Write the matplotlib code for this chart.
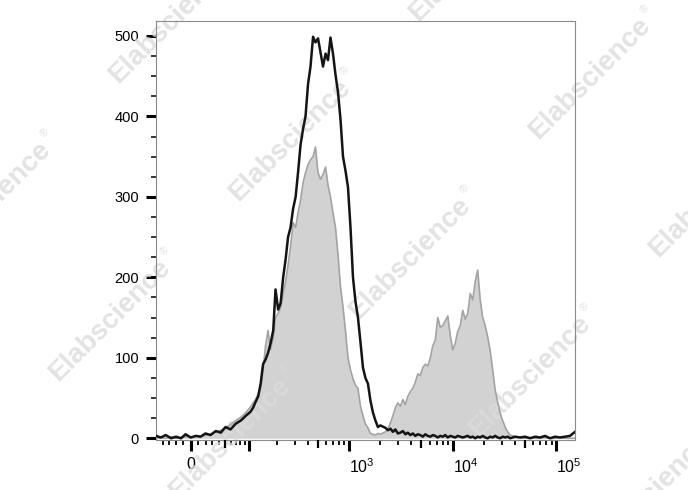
import numpy as np
import matplotlib
matplotlib.use("Agg")
import matplotlib.pyplot as plt
from matplotlib.transforms import offset_copy

plt.rcParams['font.family'] = ['Liberation Sans', 'DejaVu Sans']
plt.rcParams['mathtext.fontset'] = 'custom'
plt.rcParams['mathtext.rm'] = 'Liberation Sans'
plt.rcParams['mathtext.it'] = 'Liberation Sans:italic'
plt.rcParams['mathtext.bf'] = 'Liberation Sans:bold'

# ---------------- data ----------------
bin_values = [
    -51, -43, -35, -27, -20, -13, -7, 0, 7, 13, 20, 27, 35, 43, 51, 60, 70, 81, 93,
    105, 112, 119, 127, 135, 143, 152, 161, 171, 182, 192, 204, 216, 229, 242, 256,
    271, 287, 304, 321, 340, 360, 380, 402, 425, 450, 475, 503, 531, 562, 595, 628,
    664, 702, 742, 785, 830, 877, 926, 980, 1036, 1095, 1157, 1223, 1292, 1366, 1443,
    1526, 1613, 1705, 1803, 1905, 2013,
    2250, 2380, 2514, 2657, 2805, 2965, 3134, 3313, 3500, 3699, 3910, 4133, 4370, 4619,
    4880, 5158, 5450, 5760, 6090, 6437, 6800, 7187, 7600, 8033, 8490, 8973, 9480, 10020,
    10590, 11190, 11830, 12500, 13210, 13960, 14760, 15600, 16490, 17430, 18420, 19470,
    20570, 21740, 22980, 24290, 25670, 27130, 28670, 30300, 32030, 33850, 35780, 37820,
    39960,
    44640, 49860, 55700, 62210, 69490, 77620, 86700, 96850, 108200, 120800, 135000, 150800,
]

control_counts = [  # black open histogram
    3, 1, 4, 0, 2, 0, 5, 1, 3, 2, 6, 4, 9, 7, 14, 11, 18, 22, 28,
    33, 38, 45, 52, 68, 92, 98, 106, 118, 134,
    185, 160, 168, 200, 222, 250, 262, 285, 300, 330,
    365, 385, 400, 440, 462, 499, 492, 497, 480, 462,
    478, 470, 498, 478, 452, 430, 396, 350, 333, 312,
    262, 200, 170, 150, 120, 88, 75, 68, 47, 32,
    22, 14, 16,
    13, 10, 12, 8, 11, 6, 7, 9, 5, 7,
    4, 6, 3, 5, 4, 2, 5, 3, 2, 4,
    3, 1, 3, 2, 4, 1, 3, 2, 1, 3,
    2, 1, 2, 3, 1, 2, 0, 2, 1, 3,
    1, 0, 2, 1, 3, 1, 0, 2, 1, 2,
    0, 1, 2,
    1, 2, 0, 2, 1, 3, 0, 2, 1, 2, 3, 8,
]

sample_counts = [  # gray filled histogram
    0, 1, 0, 2, 0, 1, 2, 1, 3, 2, 4, 5, 8, 10, 13, 17, 22, 26, 32,
    39, 44, 48, 55, 62, 85, 115, 134, 110, 125,
    150, 155, 162, 180, 195, 215, 238, 268, 262, 280,
    296, 318, 330, 340, 346, 350, 362, 330, 322, 328,
    337, 315, 300, 280, 262, 228, 188, 163, 134, 100,
    85, 74, 66, 62, 40, 28, 18, 13, 6, 5,
    4, 6, 5,
    8, 12, 19, 28, 38, 44, 40, 48, 42, 52,
    58, 62, 70, 80, 78, 88, 92, 90, 100, 115,
    122, 150, 138, 140, 146, 152, 128, 110, 118, 133,
    140, 159, 148, 155, 180, 172, 195, 209, 172, 150,
    140, 126, 109, 85, 60, 45, 31, 22, 14, 8,
    4, 3, 2,
    1, 0, 1, 0, 0, 1, 0, 0, 1, 0, 0, 0,
]

x_major_ticks = [0, 100, 1000, 10000, 100000]
x_major_labels = ['0', '', r'$\mathregular{10^{3}}$', r'$\mathregular{10^{4}}$',
                  r'$\mathregular{10^{5}}$']
x_mid_ticks = [50, 500, 5000, 50000]
x_minor_ticks = [-40, -30, -20, -10, 10, 20, 30, 40, 60, 70, 80, 90,
                 200, 300, 400, 600, 700, 800, 900,
                 2000, 3000, 4000, 6000, 7000, 8000, 9000,
                 20000, 30000, 40000, 60000, 70000, 80000, 90000]
y_major_ticks = [0, 100, 200, 300, 400, 500]
y_minor_ticks = [v for v in range(25, 525, 25) if v % 100]

# ---------------- figure ----------------
W, H = 688, 490
fig = plt.figure(figsize=(W / 100, H / 100), dpi=100)
ax = fig.add_axes([156 / W, 1 - 439.5 / H, (575 - 156) / W, (439.5 - 21) / H])

ax.set_xscale('asinh', linear_width=60)
ax.set_xlim(-51, 150800)
ax.set_ylim(-1.5, 518.6)

ax.fill_between(bin_values, sample_counts, 0, color='#d2d2d2', lw=0, zorder=1)
ax.plot(bin_values, sample_counts, color='#a3a3a3', lw=1.2, zorder=3)
ax.plot(bin_values, control_counts, color='#141414', lw=1.8, zorder=4)

# ticks
ax.set_xticks(x_major_ticks)
ax.set_xticklabels(x_major_labels)
ax.set_xticks(x_minor_ticks, minor=True)
ax.set_yticks(y_major_ticks)
ax.set_yticks(y_minor_ticks, minor=True)

ax.tick_params(axis='y', which='major', length=7.2, width=2.2, direction='out',
               pad=5, labelsize=10.5, color='black')
ax.tick_params(axis='y', which='minor', length=3.6, width=1.1, direction='out',
               color='black')
ax.tick_params(axis='x', which='major', length=7.6, width=2.2, direction='out',
               pad=5, labelsize=11.5, color='black')
ax.tick_params(axis='x', which='minor', length=3.3, width=1.3, direction='out',
               color='black')
for lab in ax.get_xticklabels()[2:]:
    lab.set_horizontalalignment('left')

for s in ax.spines.values():
    s.set_color('#8a8a8a')
    s.set_linewidth(0.8)

# medium ticks (5 x 10^k) via twin axis
ax2 = ax.twiny()
ax2.set_xscale('asinh', linear_width=60)
ax2.set_xlim(ax.get_xlim())
ax2.xaxis.set_ticks_position('bottom')
ax2.set_xticks(x_mid_ticks)
ax2.set_xticklabels([])
ax2.xaxis.set_minor_locator(matplotlib.ticker.NullLocator())
ax2.tick_params(axis='x', which='major', length=5.8, width=1.6, direction='out',
                color='black')
for s in ax2.spines.values():
    s.set_visible(False)

# watermarks
wm_centers = [(170, 22), (290, 140), (410, 258), (530, 376), (650, 494),
              (470, -40), (590, 78), (710, 196),
              (-10, 202), (110, 320), (230, 438)]
c45 = np.cos(np.pi / 4)
for cx, cy in wm_centers:
    ax.text(cx / W, 1 - cy / H, 'Elabscience', transform=fig.transFigure,
            rotation=45, rotation_mode='anchor', ha='center', va='center',
            fontsize=20, fontweight='bold', color='#dcdcdc', alpha=0.8,
            zorder=2, clip_on=False)
    tr = offset_copy(fig.transFigure, fig=fig, x=(88 - 10) * c45, y=(88 + 10) * c45,
                     units='dots')
    ax.text(cx / W, 1 - cy / H, '\u00ae', transform=tr,
            rotation=45, rotation_mode='anchor', ha='center', va='center',
            fontsize=8, color='#dcdcdc', alpha=0.8, zorder=2, clip_on=False)

fig.savefig('out.png', dpi=100)
